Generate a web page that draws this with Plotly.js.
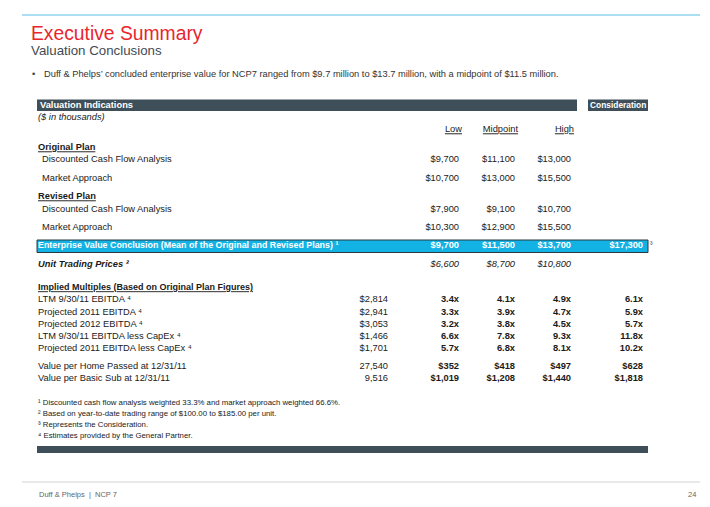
<!DOCTYPE html>
<html>
<head>
<meta charset="utf-8">
<script src="https://cdn.plot.ly/plotly-3.0.1.min.js"></script>
<style>html,body{margin:0;padding:0;background:#fff;}#chart{width:710px;height:507px;}</style>
</head>
<body>
<div id="chart"></div>
<script>
// ---------------- DATA ----------------
const pageTitle = "Executive Summary";
const pageSubtitle = "Valuation Conclusions";
const bulletText = "Duff & Phelps’ concluded enterprise value for NCP7 ranged from $9.7 million to $13.7 million, with a midpoint of $11.5 million.";
const columnHeaders = ["Low", "Midpoint", "High"];

const originalPlanRows = ["Discounted Cash Flow Analysis", "Market Approach"];
const originalLow = [9700, 10700];
const originalMid = [11100, 13000];
const originalHigh = [13000, 15500];

const revisedPlanRows = ["Discounted Cash Flow Analysis", "Market Approach"];
const revisedLow = [7900, 10300];
const revisedMid = [9100, 12900];
const revisedHigh = [10700, 15500];

const evLabel = "Enterprise Value Conclusion (Mean of the Original and Revised Plans)";
const evValues = [9700, 11500, 13700];
const evConsideration = 17300;

const unitTradingLabel = "Unit Trading Prices";
const unitTradingValues = [6600, 8700, 10800];

const multipleRows = ["LTM 9/30/11 EBITDA", "Projected 2011 EBITDA", "Projected 2012 EBITDA", "LTM 9/30/11 EBITDA less CapEx", "Projected 2011 EBITDA less CapEx"];
const multipleBase = [2814, 2941, 3053, 1466, 1701];
const multipleLow = [3.4, 3.3, 3.2, 6.6, 5.7];
const multipleMid = [4.1, 3.9, 3.8, 7.8, 6.8];
const multipleHigh = [4.9, 4.7, 4.5, 9.3, 8.1];
const multipleCons = [6.1, 5.9, 5.7, 11.8, 10.2];

const perUnitRows = ["Value per Home Passed at 12/31/11", "Value per Basic Sub at 12/31/11"];
const perUnitBase = [27540, 9516];
const perUnitLow = [352, 1019];
const perUnitMid = [418, 1208];
const perUnitHigh = [497, 1440];
const perUnitCons = [628, 1818];

const footnoteMarks = ["¹", "²", "³", "⁴"];
const footnotes = [
  "Discounted cash flow analysis weighted 33.3% and market approach weighted 66.6%.",
  "Based on year-to-date trading range of $100.00 to $185.00 per unit.",
  "Represents the Consideration.",
  "Estimates provided by the General Partner."
];
const footerLeft = "Duff & Phelps  |  NCP 7";
const footerPage = "24";

// ---------------- LAYOUT CONFIG ----------------
const FONT = "Liberation Sans, Arial, sans-serif";
const C_TEXT = "#1a1a1a";
const C_DARK = "#3e4f59";
const C_EV = "#12b2e4";
const colX = {base: 388, low: 459, mid: 515, high: 571, cons: 643};
const rowY = {
  header: 105, thousands: 118, colHead: 130,
  origHead: 148, orig: [160, 179],
  revHead: 197, rev: [210, 228],
  ev: 246, unit: 265,
  multHead: 288, mult: [300, 313, 325, 337, 349],
  per: [367, 379],
  foot: [403, 414, 425, 436]
};
const FS = 9.3;

const money = v => "$" + v.toLocaleString("en-US");
const mult = v => v.toFixed(1) + "x";

const traces = [];
function addText(xs, ys, texts, pos, opts) {
  opts = opts || {};
  traces.push({
    type: "scatter", mode: "text",
    x: xs, y: ys, text: texts,
    textposition: pos,
    textfont: {family: opts.family || FONT, size: opts.size || FS, color: opts.color || C_TEXT},
    hoverinfo: "skip", showlegend: false, cliponaxis: false
  });
}
const rep = (v, n) => Array(n).fill(v);

// Row labels
addText([38], [rowY.thousands], ["<i>($ in thousands)</i>"], "middle right");
addText([38], [rowY.origHead], ["<b><u>Original Plan</u></b>"], "middle right");
addText(rep(42, 2), rowY.orig, originalPlanRows, "middle right");
addText([38], [rowY.revHead], ["<b><u>Revised Plan</u></b>"], "middle right");
addText(rep(42, 2), rowY.rev, revisedPlanRows, "middle right");
addText([38], [rowY.unit], ["<b><i>" + unitTradingLabel + " " + footnoteMarks[1] + "</i></b>"], "middle right");
addText([38], [rowY.multHead], ["<b><u>Implied Multiples (Based on Original Plan Figures)</u></b>"], "middle right", {size: 9});
addText(rep(38, multipleRows.length), rowY.mult, multipleRows.map(s => s + " " + footnoteMarks[3]), "middle right");
addText(rep(38, perUnitRows.length), rowY.per, perUnitRows, "middle right");

// Column headers
addText([colX.low + 3, colX.mid + 3, colX.high + 3], rep(rowY.colHead, 3), columnHeaders.map(s => "<u>" + s + "</u>"), "middle left");

// Original & revised plan values
const planYs = rowY.orig.concat(rowY.rev);
addText(rep(colX.low, 4), planYs, originalLow.concat(revisedLow).map(money), "middle left");
addText(rep(colX.mid, 4), planYs, originalMid.concat(revisedMid).map(money), "middle left");
addText(rep(colX.high, 4), planYs, originalHigh.concat(revisedHigh).map(money), "middle left");

// EV conclusion row
addText([38], [rowY.ev], ["<b>" + evLabel + " " + footnoteMarks[0] + "</b>"], "middle right", {color: "#ffffff", size: 8.9});
addText([colX.low, colX.mid, colX.high, colX.cons], rep(rowY.ev, 4), evValues.concat([evConsideration]).map(v => "<b>" + money(v) + "</b>"), "middle left", {color: "#ffffff"});
addText([650], [rowY.ev - 1], [footnoteMarks[2]], "middle right", {size: 7.5, color: "#444"});

// Unit trading prices
addText([colX.low, colX.mid, colX.high], rep(rowY.unit, 3), unitTradingValues.map(v => "<i>" + money(v) + "</i>"), "middle left");

// Multiples
addText(rep(colX.base, 5), rowY.mult, multipleBase.map(money), "middle left");
addText(rep(colX.low, 5), rowY.mult, multipleLow.map(v => "<b>" + mult(v) + "</b>"), "middle left");
addText(rep(colX.mid, 5), rowY.mult, multipleMid.map(v => "<b>" + mult(v) + "</b>"), "middle left");
addText(rep(colX.high, 5), rowY.mult, multipleHigh.map(v => "<b>" + mult(v) + "</b>"), "middle left");
addText(rep(colX.cons, 5), rowY.mult, multipleCons.map(v => "<b>" + mult(v) + "</b>"), "middle left");

// Per-unit values
addText(rep(colX.base, 2), rowY.per, perUnitBase.map(v => v.toLocaleString("en-US")), "middle left");
addText(rep(colX.low, 2), rowY.per, perUnitLow.map(v => "<b>" + money(v) + "</b>"), "middle left");
addText(rep(colX.mid, 2), rowY.per, perUnitMid.map(v => "<b>" + money(v) + "</b>"), "middle left");
addText(rep(colX.high, 2), rowY.per, perUnitHigh.map(v => "<b>" + money(v) + "</b>"), "middle left");
addText(rep(colX.cons, 2), rowY.per, perUnitCons.map(v => "<b>" + money(v) + "</b>"), "middle left");

// Footnotes
addText(rep(38, footnotes.length), rowY.foot, footnotes.map((s, i) => footnoteMarks[i] + " " + s), "middle right", {size: 7.8});

// ---------------- SHAPES & ANNOTATIONS ----------------
const shapes = [
  {type: "line", xref: "x", yref: "y", x0: 22, x1: 700, y0: 15, y1: 15, line: {color: "#8fd3ee", width: 1.5}},
  {type: "rect", xref: "x", yref: "y", x0: 37, x1: 577, y0: 99.5, y1: 111, fillcolor: C_DARK, line: {width: 0}, layer: "below"},
  {type: "rect", xref: "x", yref: "y", x0: 588, x1: 648, y0: 99.5, y1: 111, fillcolor: C_DARK, line: {width: 0}, layer: "below"},
  {type: "rect", xref: "x", yref: "y", x0: 37, x1: 648, y0: 240, y1: 252.5, fillcolor: C_EV, line: {color: "#2b3a42", width: 1}, layer: "below"},
  {type: "rect", xref: "x", yref: "y", x0: 37, x1: 648, y0: 446, y1: 453, fillcolor: C_DARK, line: {width: 0}, layer: "below"},
  {type: "line", xref: "x", yref: "y", x0: 22, x1: 700, y0: 482, y1: 482, line: {color: "#d3d3d3", width: 1}}
];

const annotations = [
  {xref: "x", yref: "y", x: 29, y: 33, xanchor: "left", yanchor: "middle", showarrow: false, text: pageTitle, font: {family: FONT, size: 19.3, color: "#e8262d"}},
  {xref: "x", yref: "y", x: 29, y: 50, xanchor: "left", yanchor: "middle", showarrow: false, text: pageSubtitle, font: {family: FONT, size: 13.3, color: "#3f4b53"}},
  {xref: "x", yref: "y", x: 30, y: 74, xanchor: "left", yanchor: "middle", showarrow: false, text: "•", font: {family: FONT, size: 9.3, color: "#404040"}},
  {xref: "x", yref: "y", x: 42, y: 74, xanchor: "left", yanchor: "middle", showarrow: false, text: bulletText, font: {family: FONT, size: 9.3, color: "#333333"}},
  {xref: "x", yref: "y", x: 38, y: 105.3, xanchor: "left", yanchor: "middle", showarrow: false, text: "<b>Valuation Indications</b>", font: {family: FONT, size: FS, color: "#ffffff"}},
  {xref: "x", yref: "y", x: 618, y: 105.3, xanchor: "center", yanchor: "middle", showarrow: false, text: "<b>Consideration</b>", font: {family: FONT, size: 8.4, color: "#ffffff"}},
  {xref: "x", yref: "y", x: 37, y: 494, xanchor: "left", yanchor: "middle", showarrow: false, text: footerLeft, font: {family: FONT, size: 7.5, color: "#666666"}},
  {xref: "x", yref: "y", x: 698, y: 494, xanchor: "right", yanchor: "middle", showarrow: false, text: footerPage, font: {family: FONT, size: 7.5, color: "#666666"}}
];

const layout = {
  width: 710, height: 507,
  margin: {l: 0, r: 0, t: 0, b: 0},
  paper_bgcolor: "#ffffff", plot_bgcolor: "#ffffff",
  xaxis: {range: [0, 710], visible: false, fixedrange: true},
  yaxis: {range: [507, 0], visible: false, fixedrange: true},
  shapes: shapes, annotations: annotations,
  showlegend: false, hovermode: false
};

Plotly.newPlot("chart", traces, layout, {displayModeBar: false, staticPlot: true});
</script>
</body>
</html>
